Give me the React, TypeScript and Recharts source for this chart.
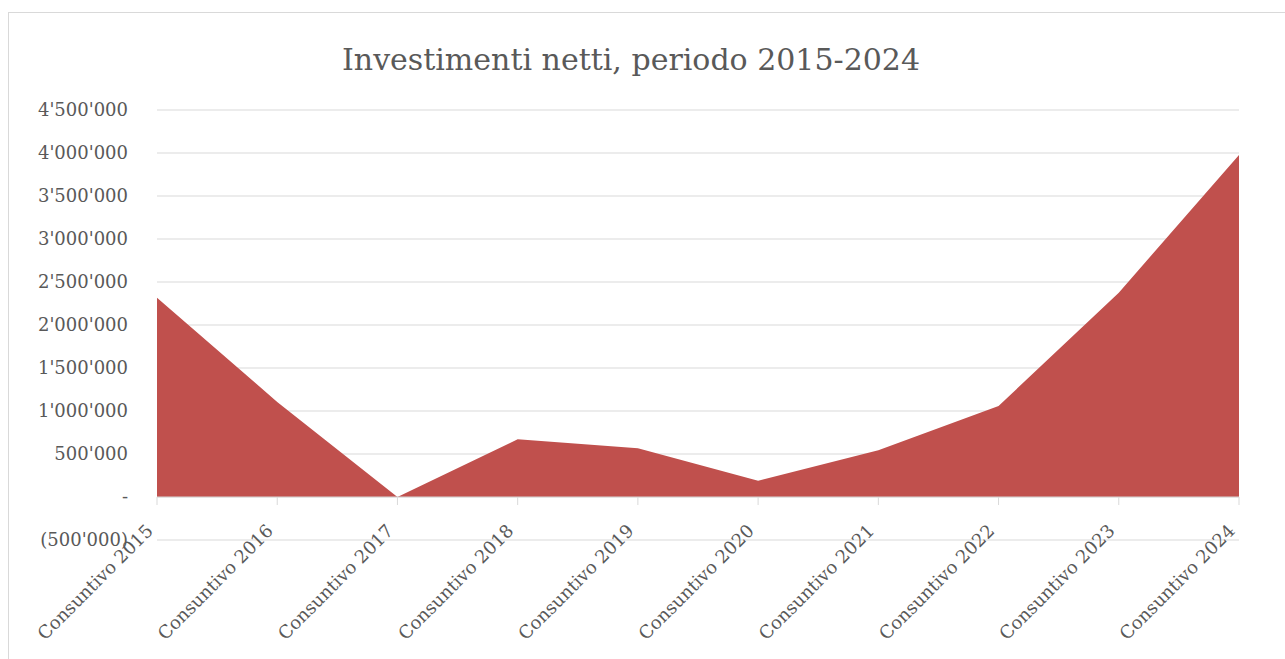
import React from 'react';
import { AreaChart, Area, CartesianGrid, XAxis, YAxis, ReferenceLine } from 'recharts';

const categories = [
  'Consuntivo 2015', 'Consuntivo 2016', 'Consuntivo 2017', 'Consuntivo 2018', 'Consuntivo 2019',
  'Consuntivo 2020', 'Consuntivo 2021', 'Consuntivo 2022', 'Consuntivo 2023', 'Consuntivo 2024',
];
const investimenti = [2317000, 1105000, 0, 671000, 566000, 190000, 545000, 1058000, 2376000, 3977000];
const yTicks = [-500000, 0, 500000, 1000000, 1500000, 2000000, 2500000, 3000000, 3500000, 4000000, 4500000];

const data = categories.map((c, i) => ({ name: c, value: investimenti[i] }));

const FONT = '"DejaVu Serif", serif';
const TEXT = '#595959';
const GRID = '#d9d9d9';

function fmt(v: number) {
  if (v === 0) return '-';
  const s = Math.abs(v).toString().replace(/\B(?=(\d{3})+(?!\d))/g, "'");
  return v < 0 ? `(${s})` : s;
}

// axis sits at the zero line, not at the plot bottom
const ZERO_OFFSET = 43;

function XTick(props: any) {
  const { x, y, payload } = props;
  const zy = y - ZERO_OFFSET;
  const ax = x - 3;
  const ay = zy + 35;
  return (
    <g>
      <line x1={x} y1={zy} x2={x} y2={zy + 8} stroke={GRID} />
      <text
        x={ax}
        y={ay}
        textAnchor="end"
        transform={`rotate(-45, ${ax}, ${ay})`}
        fill={TEXT}
        fontSize={18}
        fontFamily={FONT}
      >
        {payload.value}
      </text>
    </g>
  );
}

export default function App() {
  return (
    <div style={{ position: 'fixed', left: 0, top: 0, width: 1285, height: 659, overflow: 'hidden', background: '#fff' }}>
      <div
        style={{
          position: 'absolute', left: 8, top: 12, width: 1300, height: 700,
          border: `1px solid ${GRID}`, fontFamily: FONT,
        }}
      >
        <div
          style={{
            position: 'absolute', left: 0, width: 1244, top: 29, textAlign: 'center',
            fontSize: 30, color: TEXT, fontFamily: FONT,
          }}
        >
          Investimenti netti, periodo 2015-2024
        </div>
        <AreaChart width={1277} height={646} data={data} margin={{ top: 97, right: 47, left: 0, bottom: 0 }}>
          <CartesianGrid vertical={false} stroke={GRID} />
          <XAxis dataKey="name" height={119} axisLine={false} tickLine={false} tickSize={0} tickMargin={0} tick={<XTick />} interval={0} />
          <YAxis
            width={148}
            domain={[-500000, 4500000]}
            ticks={yTicks}
            axisLine={false}
            tickLine={false}
            tickSize={0}
            tickMargin={29}
            tickFormatter={fmt}
            tick={{ fill: TEXT, fontSize: 18, fontFamily: FONT }}
          />
          <Area type="linear" dataKey="value" fill="#c0504d" fillOpacity={1} stroke="none" baseValue={0} isAnimationActive={false} />
          <ReferenceLine y={0} stroke={GRID} />
        </AreaChart>
      </div>
    </div>
  );
}
